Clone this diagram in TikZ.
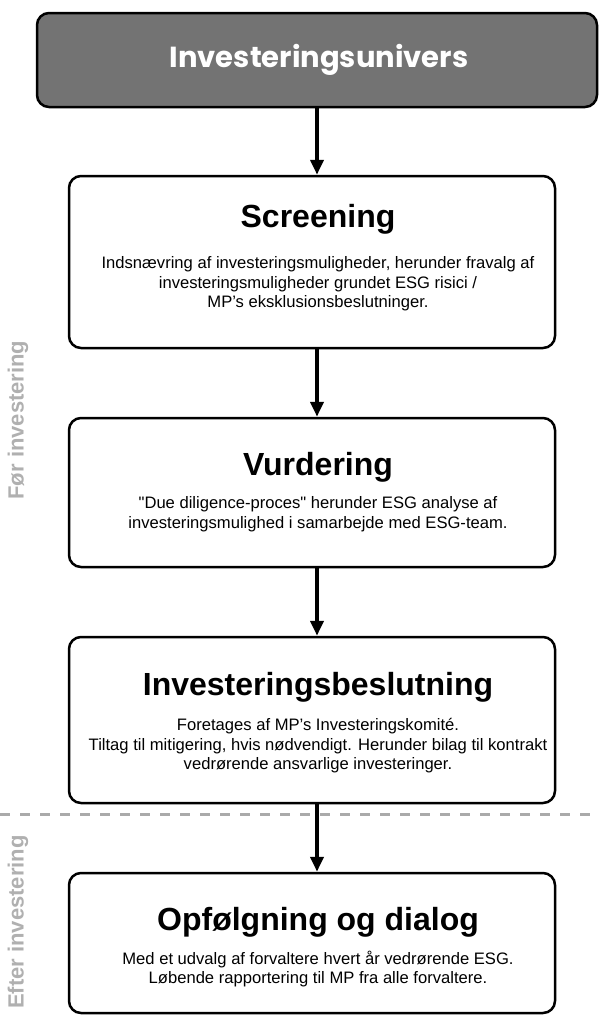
\documentclass[tikz,border=0pt]{standalone}
\usepackage{fontspec}
\setmainfont{Liberation Sans}[Ligatures=TeXOff]
\newfontfamily\poppfont{Poppins}
\usetikzlibrary{arrows.meta}
\definecolor{topgray}{HTML}{737373}
\definecolor{sidegray}{HTML}{B0B0B0}
\definecolor{dashgray}{HTML}{AAAAAA}
\tikzset{
  stepbox/.style={draw=black, line width=2.5pt, rounded corners=12pt, fill=white, inner sep=0pt},
  topbox/.style={stepbox, fill=topgray},
  boxtitle/.style={font=\fontsize{32}{38}\selectfont\bfseries, inner sep=0pt},
  boxbody/.style={font=\fontsize{16.6}{19.5}\selectfont, align=center, inner sep=0pt},
  sidelabel/.style={font=\fontsize{22}{24}\selectfont\bfseries, text=sidegray, rotate=90, inner sep=0pt},
  flowarrow/.style={draw=black, line width=4pt, -{Triangle[length=15pt,width=13pt]}},
  divider/.style={draw=dashgray, line width=3pt, dash pattern=on 10pt off 10pt}
}
\begin{document}
\begin{tikzpicture}[x=1pt,y=-1pt]
\useasboundingbox (0,0) rectangle (598,1018);

% boxes
\node[topbox, minimum width=560pt, minimum height=94pt] (univ) at (317,60) {};
\node[stepbox, minimum width=486pt, minimum height=172pt] (scr) at (312,262) {};
\node[stepbox, minimum width=486pt, minimum height=149pt] (vur) at (312,492.5) {};
\node[stepbox, minimum width=486pt, minimum height=166pt] (inv) at (312,720) {};
\node[stepbox, minimum width=486pt, minimum height=140pt] (opf) at (312,943) {};

% texts
\node[inner sep=0pt, text=white, font=\poppfont\bfseries\fontsize{29}{34}\selectfont] (univt) at (319,60) {Investeringsunivers};

\node[boxtitle] (scrt) at (318,219) {Screening};
\node[boxbody] (scrb) at (318,284) {Indsnævring af investeringsmuligheder, herunder fravalg af\\investeringsmuligheder grundet ESG risici /\\MP’s eksklusionsbeslutninger.};

\node[boxtitle] (vurt) at (318,467) {Vurdering};
\node[boxbody] (vurb) at (318,514) {"Due diligence-proces" herunder ESG analyse af\\investeringsmulighed i samarbejde med ESG-team.};

\node[boxtitle] (invt) at (318,687) {Investeringsbeslutning};
\node[boxbody] (invb) at (318,746) {Foretages af MP’s Investeringskomité.\\Tiltag til mitigering, hvis nødvendigt. Herunder bilag til kontrakt\\vedrørende ansvarlige investeringer.};

\node[boxtitle] (opft) at (318,922) {Opfølgning og dialog};
\node[boxbody] (opfb) at (318,969) {Med et udvalg af forvaltere hvert år vedrørende ESG.\\Løbende rapportering til MP fra alle forvaltere.};

% side labels
\node[sidelabel] (foer) at (18,420) {Før investering};
\node[sidelabel] (efter) at (18,922) {Efter investering};

% divider
\coordinate (dl) at (0,814);
\coordinate (dr) at (598,814);
\draw[divider] (dl) -- (dr);

% arrows
\coordinate (ax) at (317,0);
\draw[flowarrow] (univ.south -| ax) -- (scr.north -| ax);
\draw[flowarrow] (scr.south -| ax) -- (vur.north -| ax);
\draw[flowarrow] (vur.south -| ax) -- (inv.north -| ax);
\draw[flowarrow] (inv.south -| ax) -- (opf.north -| ax);
\end{tikzpicture}
\end{document}
